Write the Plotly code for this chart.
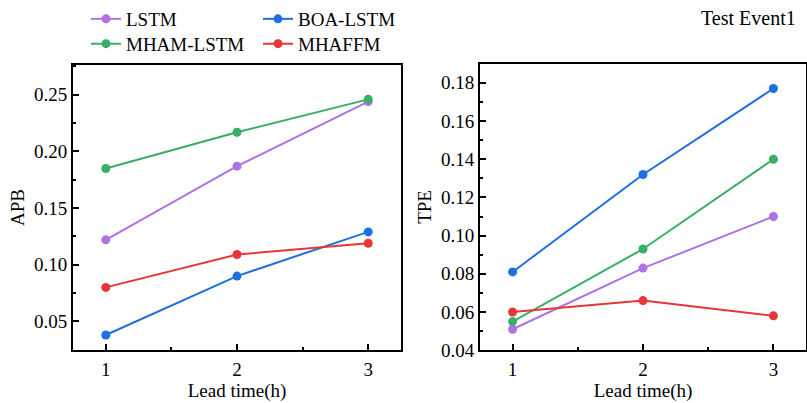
import plotly.graph_objects as go

# Lead times and model results
lead_time = [1, 2, 3]
models = ["LSTM", "BOA-LSTM", "MHAM-LSTM", "MHAFFM"]
colors = ["#AD72E4", "#1F6FE0", "#39AE66", "#E8353A"]

apb = {
    "LSTM": [0.122, 0.187, 0.244],
    "BOA-LSTM": [0.038, 0.090, 0.129],
    "MHAM-LSTM": [0.185, 0.217, 0.246],
    "MHAFFM": [0.080, 0.109, 0.119],
}
tpe = {
    "LSTM": [0.051, 0.083, 0.110],
    "BOA-LSTM": [0.081, 0.132, 0.177],
    "MHAM-LSTM": [0.055, 0.093, 0.140],
    "MHAFFM": [0.060, 0.066, 0.058],
}

W, H = 807, 403
FONT = "Liberation Serif"

fig = go.Figure()

legend_names = ["legend", "legend2", "legend3", "legend4"]
for i, m in enumerate(models):
    fig.add_trace(go.Scatter(
        x=lead_time, y=apb[m], name=m, mode="lines+markers",
        line=dict(color=colors[i], width=2),
        marker=dict(color=colors[i], size=9),
        xaxis="x", yaxis="y", legend=legend_names[i], showlegend=True,
    ))
for i, m in enumerate(models):
    fig.add_trace(go.Scatter(
        x=lead_time, y=tpe[m], name=m, mode="lines+markers",
        line=dict(color=colors[i], width=2),
        marker=dict(color=colors[i], size=9),
        xaxis="x2", yaxis="y2", showlegend=False,
    ))

axis_common = dict(
    showline=True, linecolor="black", linewidth=2, mirror=True,
    ticks="inside", ticklen=6, tickwidth=2, tickcolor="black",
    showgrid=False, zeroline=False, automargin=False,
    tickfont=dict(family=FONT, size=19, color="black"),
)

xax = dict(axis_common, range=[0.75, 3.25], tickvals=lead_time, ticklabelstandoff=1,
           minor=dict(ticks="inside", ticklen=3, tickwidth=2, dtick=0.5, tick0=1,
                      tickcolor="black", showgrid=False),
           title=dict(text="Lead time(h)", font=dict(family=FONT, size=19, color="black"),
                      standoff=4))

fig.update_layout(
    width=W, height=H,
    margin=dict(l=0, r=0, t=0, b=0),
    paper_bgcolor="white", plot_bgcolor="white",
    font=dict(family=FONT, size=19, color="black"),
    xaxis=dict(xax, domain=[73 / W, 401 / W], anchor="y"),
    yaxis=dict(axis_common, domain=[53 / H, 340 / H], anchor="x",
               range=[0.0245, 0.2766], tickvals=[0.05, 0.10, 0.15, 0.20, 0.25],
               ticktext=["0.05", "0.10", "0.15", "0.20", "0.25"],
               minor=dict(ticks="inside", ticklen=3, tickwidth=2, dtick=0.025, tick0=0.025,
                          tickcolor="black", showgrid=False),
               title=dict(text="APB", font=dict(family=FONT, size=19, color="black"),
                          standoff=4)),
    xaxis2=dict(xax, domain=[480 / W, 806 / W], anchor="y2"),
    yaxis2=dict(axis_common, domain=[53 / H, 341 / H], anchor="x2",
                range=[0.04, 0.19], tickvals=[0.04, 0.06, 0.08, 0.10, 0.12, 0.14, 0.16, 0.18],
                ticktext=["0.04", "0.06", "0.08", "0.10", "0.12", "0.14", "0.16", "0.18"],
                minor=dict(ticks="inside", ticklen=3, tickwidth=2, dtick=0.01, tick0=0.05,
                           tickcolor="black", showgrid=False),
                title=dict(text="TPE", font=dict(family=FONT, size=19, color="black"),
                           standoff=4)),
    annotations=[dict(text="Test Event1", x=798 / W, y=1 - 16 / H, xref="paper", yref="paper",
                      xanchor="right", yanchor="middle", showarrow=False,
                      font=dict(family=FONT, size=20, color="black"))],
)

# One legend per entry so the two-row layout lines up
leg_pos = [(86, 17), (258, 17), (86, 42), (258, 42)]
for name, (lx, ly) in zip(legend_names, leg_pos):
    fig.update_layout({name: dict(
        x=lx / W, y=1 - ly / H, xanchor="left", yanchor="middle",
        orientation="h", bgcolor="rgba(0,0,0,0)", borderwidth=0,
        font=dict(family=FONT, size=19, color="black"),
    )})

fig.write_html("out.html")
